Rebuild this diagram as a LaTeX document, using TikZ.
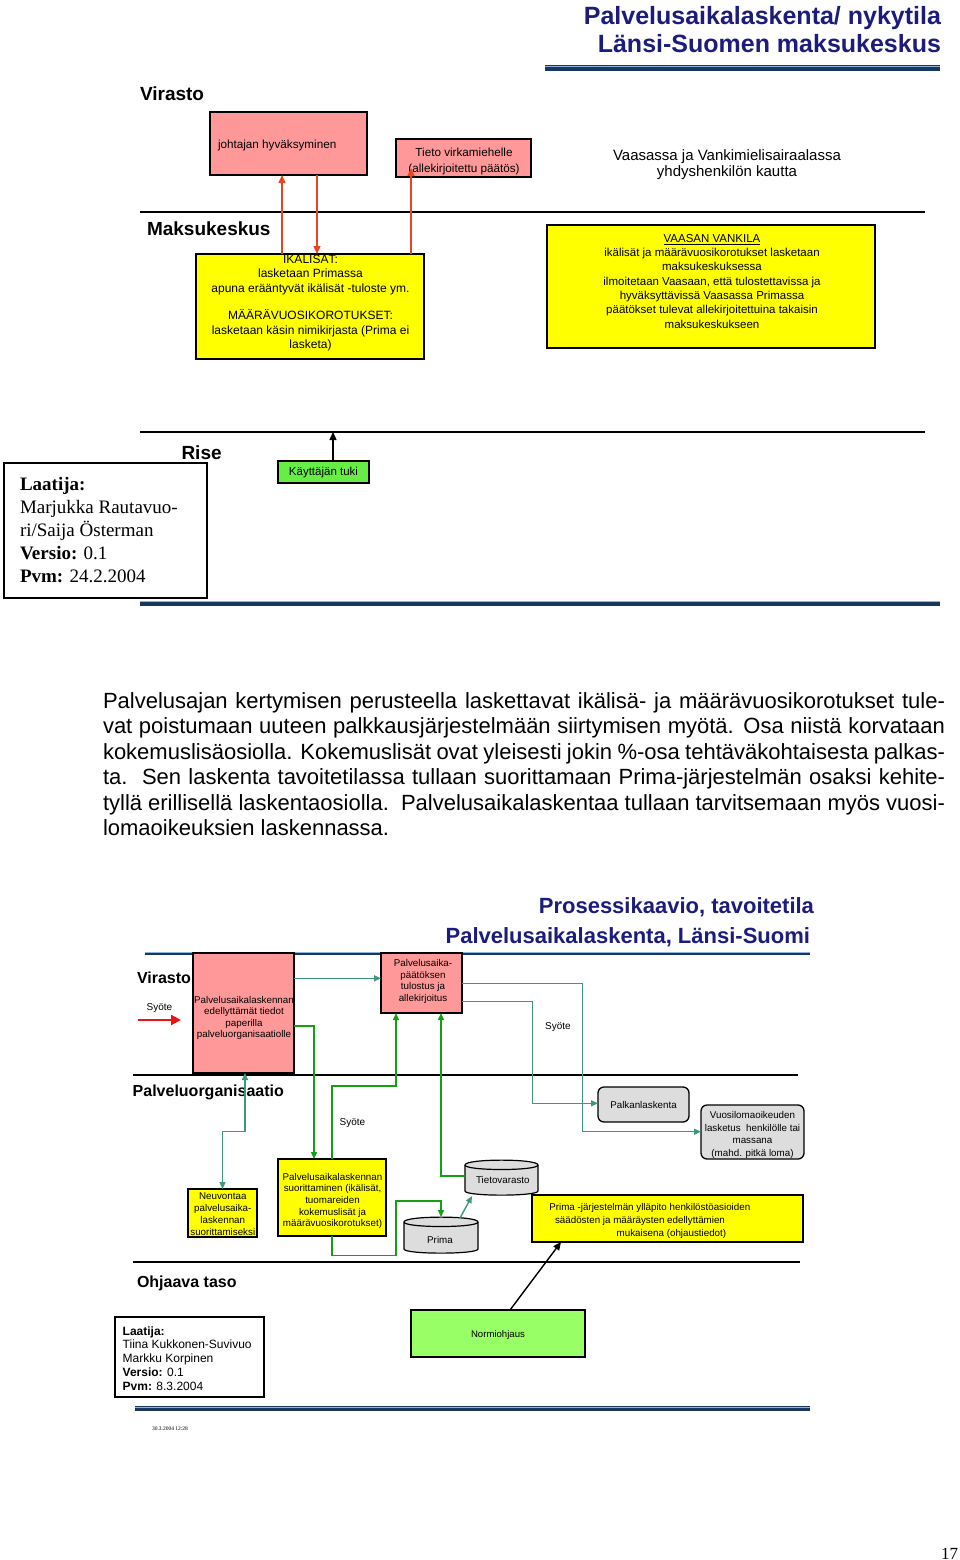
\documentclass[tikz,border=0pt]{standalone}
\usepackage{fontspec}
\setmainfont{Liberation Sans}
\newfontfamily\serifff{Liberation Serif}
\usetikzlibrary{arrows.meta,calc,backgrounds}
\definecolor{navy}{HTML}{17375E}
\definecolor{titleblue}{HTML}{1C1C7C}
\definecolor{lightstripe}{HTML}{8FB4DC}
\definecolor{pinkfill}{HTML}{FF9999}
\definecolor{yellowfill}{HTML}{FFFF00}
\definecolor{greenfill}{HTML}{66EE44}
\definecolor{lightgreen}{HTML}{99FF66}
\definecolor{drumgray}{HTML}{DDDDDD}
\definecolor{arrowred}{HTML}{E8461E}
\definecolor{brightred}{HTML}{EE1111}
\definecolor{tealc}{HTML}{3A9A7A}
\definecolor{greenc}{HTML}{14A014}
\newcommand\fs[2]{\fontsize{#1}{#2}\selectfont}
\newcommand\drumshape[1]{%
\begin{scope}[on background layer]
\draw[line width=1.2, fill=drumgray] ($(#1.north west)+(0,5)$) -- ($(#1.south west)+(0,-4)$)
  .. controls ($(#1.south west)+(0,1.5)$) and ($(#1.south east)+(0,1.5)$) .. ($(#1.south east)+(0,-4)$)
  -- ($(#1.north east)+(0,5)$)
  .. controls ($(#1.north east)+(0,-1.5)$) and ($(#1.north west)+(0,-1.5)$) .. cycle;
\draw[line width=1.2] ($(#1.north west)+(0,5)$) .. controls ($(#1.north west)+(0,11)$) and ($(#1.north east)+(0,11)$) .. ($(#1.north east)+(0,5)$);
\end{scope}}
\newcommand\navyrule[4]{%
\draw[navy, line width=#4] (#1,#3) -- (#2,#3);
\draw[lightstripe, line width=0.7] (#1,{#3-#4/2+1.0}) -- (#2,{#3-#4/2+1.0});}
\begin{document}
\begin{tikzpicture}[x=1pt,y=-1pt,
  box/.style={draw=black, line width=1.3, inner sep=0, outer sep=0},
  pinkbox/.style={box, fill=pinkfill},
  yelbox/.style={box, fill=yellowfill},
  graybox/.style={box, fill=drumgray, rounded corners=6},
  drumnode/.style={inner sep=0, outer sep=0, minimum width=#1},
  lbl/.style={inner sep=0, outer sep=0, anchor=base},
  lane/.style={inner sep=0, outer sep=0, anchor=base west, font=\fs{19}{22}\bfseries},
  lanetwo/.style={inner sep=0, outer sep=0, anchor=base west, font=\fs{16}{19}\bfseries},
  redarr/.style={draw=arrowred, line width=1.4, -{Triangle[length=8,width=7]}},
  tealarr/.style={draw=tealc, line width=1.4, -{Triangle[length=7,width=6]}},
  tealboth/.style={draw=tealc, line width=1.4, {Triangle[length=7,width=6]}-{Triangle[length=7,width=6]}},
  greenarr/.style={draw=greenc, line width=1.4, -{Triangle[length=7,width=6]}},
  blackarr/.style={draw=black, line width=1.3, -{Triangle[length=8,width=7]}},
  rulel/.style={draw=black, line width=1.6}]
\begin{scope}[on background layer]
\fill[white] (0,0) rectangle (960,1560);
\end{scope}
\useasboundingbox (0,0) rectangle (960,1560);

% ---------------- upper page ----------------
% (multi-line labels are anchored at the baseline of their last line)
\node[lbl, anchor=base east, align=right, font=\fs{25}{28}\bfseries, text=titleblue] (title1) at (941,52.5) {Palvelusaikalaskenta/ nykytila\\Länsi-Suomen maksukeskus};
\navyrule{545}{940}{68}{5.5}

\node[lane] (virasto) at (140,101) {Virasto};
\node[pinkbox, minimum width=157, minimum height=63] (jh) at (288.5,143.5) {};
\node[lbl, anchor=base west, font=\fs{11.7}{14}] (jhtext) at (218,149) {johtajan hyväksyminen};
\node[pinkbox, minimum width=135, minimum height=38] (tieto) at (463.5,158) {};
\node[lbl, align=center, font=\fs{11.7}{15.7}] (tietotext) at (464,172) {Tieto virkamiehelle\\(allekirjoitettu päätös)};
\node[lbl, align=center, font=\fs{15}{16.5}] (vaasa) at (727,176.5) {Vaasassa ja Vankimielisairaalassa\\yhdyshenkilön kautta};

\draw[rulel] (140,212) -- (925,212);
\node[lane] (maksu) at (147,235) {Maksukeskus};

\node[yelbox, minimum width=228, minimum height=105] (yk1) at (310,306.5) {};
\node[lbl, align=center, font=\fs{12}{14.5}] (yk1text) at (310.5,348.5) {IKÄLISÄT:\\lasketaan Primassa\\apuna erääntyvät ikälisät -tuloste ym.\\[12.8pt]MÄÄRÄVUOSIKOROTUKSET:\\lasketaan käsin nimikirjasta (Prima ei\\lasketa)};
\node[yelbox, minimum width=328, minimum height=123] (yk2) at (711,286.5) {};
\node[lbl, align=center, font=\fs{11.5}{14.3}] (yk2text) at (712,328) {\underline{VAASAN VANKILA}\\ikälisät ja määrävuosikorotukset lasketaan\\maksukeskuksessa\\ilmoitetaan Vaasaan, että tulostettavissa ja\\hyväksyttävissä Vaasassa Primassa\\päätökset tulevat allekirjoitettuina takaisin\\maksukeskukseen};

\coordinate (tietoin) at (411,168);
\draw[redarr] (yk1.north -| 282,0) -- (jh.south -| 282,0);
\draw[redarr] (jh.south -| 317,0) -- (yk1.north -| 317,0);
\draw[redarr] (yk1.north -| tietoin) -- (tietoin);

\draw[draw=black, line width=1.2] (140,432) -- (925,432);
\node[lane] (rise) at (181.5,459.3) {Rise};
\node[box, line width=2, minimum width=203, minimum height=135] (laat1) at (105.5,530.5) {};
\node[lbl, anchor=base west, align=left, font=\serifff\fs{19}{23}] (laat1text) at (20,582.7) {\textbf{Laatija:}\\Marjukka Rautavuo-\\ri/Saija Österman\\\textbf{Versio:} 0.1\\\textbf{Pvm:} 24.2.2004};
\node[box, fill=greenfill, minimum width=91, minimum height=22, text height=7, text depth=0, font=\fs{11.5}{13}] (kt) at (323.5,472) {Käyttäjän tuki};
\coordinate (riseup) at (333,432);
\draw[blackarr] (kt.north -| riseup) -- (riseup);

\navyrule{140}{940}{603.5}{5.5}

\node[lbl, anchor=base west, align=left, font=\fs{22}{25.4}] (para) at (103,835.5) {%
\makebox[842pt][s]{Palvelusajan kertymisen perusteella laskettavat ikälisä- ja määrävuosikorotukset tule-}\\
\makebox[842pt][s]{vat poistumaan uuteen palkkausjärjestelmään siirtymisen myötä. Osa niistä korvataan}\\
\makebox[842pt][s]{kokemuslisäosiolla. Kokemuslisät ovat yleisesti jokin \%-osa tehtäväkohtaisesta palkas-}\\
\makebox[842pt][s]{ta.\ \ Sen laskenta tavoitetilassa tullaan suorittamaan Prima-järjestelmän osaksi kehite-}\\
\makebox[842pt][s]{tyllä erillisellä laskentaosiolla.\ \ Palvelusaikalaskentaa tullaan tarvitsemaan myös vuosi-}\\
lomaoikeuksien laskennassa.};

% ---------------- lower page ----------------
\node[lbl, anchor=base east, font=\fs{22}{25}\bfseries, text=titleblue] (title2a) at (814,913) {Prosessikaavio, tavoitetila};
\node[lbl, anchor=base east, font=\fs{22}{25}\bfseries, text=titleblue] (title2b) at (810,943) {Palvelusaikalaskenta, Länsi-Suomi};
\navyrule{145}{810}{953.5}{3.5}

\node[lanetwo] (virasto2) at (137,983.3) {Virasto};
\node[lbl, font=\fs{10}{12}] (syote1) at (159.5,1010.7) {Syöte};
\coordinate (redstart) at (138,1020);
\coordinate (redend) at (181,1020);
\draw[draw=brightred, line width=2.2, -{Triangle[length=10,width=10]}] (redstart) -- (redend);

\node[pinkbox, minimum width=101, minimum height=120] (pb) at (243.5,1013) {};
\node[lbl, align=center, font=\fs{9.8}{11.5}] (pbtext) at (244,1037.5) {Palvelusaikalaskennan\\edellyttämät tiedot\\paperilla\\palveluorganisaatiolle};
\node[pinkbox, minimum width=81, minimum height=60] (ps) at (421.5,983) {};
\node[lbl, align=center, font=\fs{9.8}{11.5}] (pstext) at (423,1001.2) {Palvelusaika-\\päätöksen\\tulostus ja\\allekirjoitus};

\draw[rulel, line width=1.4] (133,1075) -- (798,1075);
\node[lanetwo] (palvorg) at (132.7,1096.7) {Palveluorganisaatio};
\node[lbl, font=\fs{10}{12}] (syote2) at (352.5,1125) {Syöte};
\node[lbl, font=\fs{10}{12}] (syote3) at (558,1029) {Syöte};

\node[yelbox, minimum width=108, minimum height=77] (ys) at (332,1197.5) {};
\node[lbl, align=center, font=\fs{9.8}{11.7}] (ystext) at (332.5,1226.8) {Palvelusaikalaskennan\\suorittaminen (ikälisät,\\tuomareiden\\kokemuslisät ja\\määrävuosikorotukset)};
\node[yelbox, minimum width=69, minimum height=48] (neu) at (222.5,1213) {};
\node[lbl, align=center, font=\fs{9.8}{12.1}] (neutext) at (222.8,1235.6) {Neuvontaa\\palvelusaika-\\laskennan\\suorittamiseksi};

\node[drumnode=74, minimum height=36] (prima) at (441,1235) {};
\drumshape{prima}
\node[lbl, font=\fs{9.8}{12}] (primatext) at (440,1243.5) {Prima};
\node[drumnode=73, minimum height=35] (tv) at (501.5,1177.5) {};
\drumshape{tv}
\node[lbl, font=\fs{9.8}{12}] (tvtext) at (502.8,1183.5) {Tietovarasto};

\node[graybox, minimum width=91, minimum height=35, text height=7, text depth=0, font=\fs{9.8}{12}] (pk) at (643.5,1104.5) {Palkanlaskenta};
\node[graybox, minimum width=103, minimum height=54] (vl) at (752.5,1132) {};
\node[lbl, align=center, font=\fs{9.8}{12.5}] (vltext) at (752.5,1156) {Vuosilomaoikeuden\\lasketus\ \ henkilölle tai\\massana\\(mahd. pitkä loma)};

\node[yelbox, minimum width=271, minimum height=47] (pyb) at (667.5,1218.5) {};
\node[lbl, anchor=base west, font=\fs{9.8}{12}] (pyb1) at (549.3,1210.7) {Prima -järjestelmän ylläpito henkilöstöasioiden};
\node[lbl, anchor=base west, font=\fs{9.8}{12}] (pyb2) at (555,1223.3) {säädösten ja määräysten edellyttämien};
\node[lbl, anchor=base west, font=\fs{9.8}{12}] (pyb3) at (616.7,1236.7) {mukaisena (ohjaustiedot)};

% connectors lower
\draw[tealarr] (pb.east |- 0,978.3) -- (ps.west |- 0,978.3);
\draw[greenarr] (pb.east |- 0,1026) -| (ys.north -| 314,0);
\draw[greenarr] (ys.north -| 332,0) |- (396,1086) -- (ps.south -| 396,0);
\draw[greenarr] (tv.west |- 0,1176) -| (ps.south -| 441,0);
\draw[greenarr] (ys.south -| 332,0) |- (396,1255.5) |- (441,1201) -- (prima.north -| 441,0);
\draw[tealarr] ($(prima.north east)+(-18,1)$) -- ($(tv.south west)+(7,1)$);
\draw[tealboth] (neu.north) |- (245,1131.7) -- (pb.south -| 245,0);
\draw[tealarr] (ps.east |- 0,983.3) -| (582.7,1131.7) -- (vl.west |- 0,1131.7);
\draw[tealarr] (ps.east |- 0,1001.7) -| (532.3,1103.3) -- (pk.west |- 0,1103.3);

\draw[rulel, line width=1.4] (133,1262) -- (800,1262);
\node[lanetwo] (ohjaava) at (137,1287) {Ohjaava taso};

\node[box, fill=lightgreen, minimum width=174, minimum height=47, text height=7, text depth=0, font=\fs{9.6}{12}] (nor) at (498,1333.5) {Normiohjaus};
\draw[blackarr, line width=1.4] (nor.north -| 510,0) -- (pyb.south -| 561,0);

\node[box, line width=1.6, minimum width=149, minimum height=80] (laat2) at (189.5,1357) {};
\node[lbl, anchor=base west, align=left, font=\fs{12}{13.9}] (laat2text) at (122.7,1390.6) {\textbf{Laatija:}\\Tiina Kukkonen-Suvivuo\\Markku Korpinen\\\textbf{Versio:} 0.1\\\textbf{Pvm:} 8.3.2004};

\navyrule{135}{810}{1408.5}{5}
\node[lbl, anchor=base west, font=\serifff\fs{5.5}{7}] (stamp) at (152,1430.7) {30.3.2004 12:28};
\node[lbl, anchor=base east, font=\serifff\fs{17}{20}] (pagenum) at (958,1559) {17};
\end{tikzpicture}
\end{document}
